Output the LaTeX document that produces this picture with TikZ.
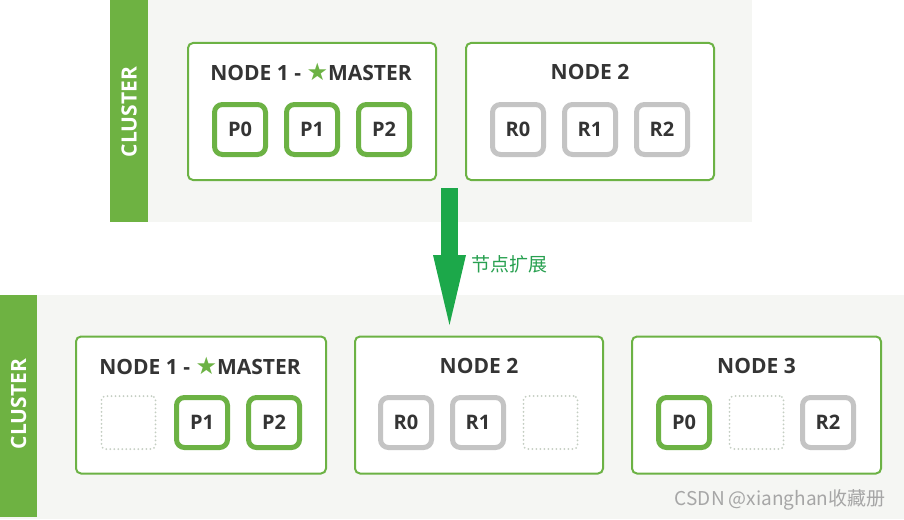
\documentclass[tikz,border=0pt]{standalone}
\usepackage{fontspec}
\setmainfont{Open Sans}
\newfontfamily\cjk{Noto Sans CJK SC}
\newfontfamily\symf{DejaVu Sans}
\usetikzlibrary{arrows.meta}
\definecolor{bgc}{RGB}{245,246,243}
\definecolor{barc}{RGB}{110,178,66}
\definecolor{grn}{RGB}{108,178,68}
\definecolor{gry}{RGB}{196,196,196}
\definecolor{dotc}{RGB}{196,206,194}
\definecolor{txt}{RGB}{52,52,52}
\definecolor{arrc}{RGB}{28,168,74}
\definecolor{lblc}{RGB}{40,160,80}
\newcommand{\mstar}{{\symf\fontsize{24}{21}\selectfont\color{grn}★}}
\begin{document}
\begin{tikzpicture}[x=1pt,y=-1pt,
  panel/.style={fill=bgc,draw=none},
  bar/.style={fill=barc,draw=none},
  clabel/.style={text=white,font=\bfseries\fontsize{21}{21}\selectfont,rotate=90},
  nodebox/.style={draw=grn,line width=2pt,rounded corners=5pt,fill=white,minimum width=248pt,minimum height=137pt,inner sep=0pt},
  title/.style={text=txt,font=\bfseries\fontsize{21}{21}\selectfont,inner sep=0pt},
  prim/.style={draw=grn,line width=5pt,rounded corners=8pt,fill=white,minimum width=51pt,minimum height=50pt,inner sep=0pt,text=txt,font=\bfseries\fontsize{20}{20}\selectfont},
  repl/.style={prim,draw=gry},
  emptybox/.style={draw=dotc,line width=2pt,line cap=round,dash pattern=on 0pt off 4pt,rounded corners=4pt,minimum width=54pt,minimum height=53pt,inner sep=0pt},
  bigarrow/.style={draw=arrc,line width=17pt,-{Triangle[width=33pt,length=70pt,line width=0pt]}},
  elabel/.style={text=lblc,font=\cjk\fontsize{19}{19}\selectfont},
  wmark/.style={text=gray!70,font=\cjk\fontsize{19}{19}\selectfont}
]
\useasboundingbox (0,0) rectangle (904,519);
% top panel
\fill[panel] (110,0) rectangle (752,222);
\fill[bar] (110,0) rectangle (148,222);
\node[clabel] (c1) at (129,112) {CLUSTER};
\node[nodebox] (t1) at (312,111.5) {};
\node[nodebox] (t2) at (590,111.5) {};
\node[title] (t1t) at (311,72) {NODE 1 - \mstar MASTER};
\node[title] (t2t) at (590,72) {NODE 2};
\node[prim] (tp0) at (240,129.5) {P0};
\node[prim] (tp1) at (312,129.5) {P1};
\node[prim] (tp2) at (384,129.5) {P2};
\node[repl] (tr0) at (518,129.5) {R0};
\node[repl] (tr1) at (590,129.5) {R1};
\node[repl] (tr2) at (662,129.5) {R2};
% bottom panel
\fill[panel] (0,295) rectangle (904,519);
\fill[bar] (0,295) rectangle (37,517);
\node[clabel] (c2) at (18.5,404) {CLUSTER};
\node[nodebox,minimum width=250pt] (b1) at (201,405) {};
\node[nodebox] (b2) at (479,405) {};
\node[nodebox,minimum width=249pt] (b3) at (756.5,405) {};
\node[title] (b1t) at (200,366) {NODE 1 - \mstar MASTER};
\node[title] (b2t) at (479,366) {NODE 2};
\node[title] (b3t) at (756.5,366) {NODE 3};
\node[emptybox] (be1) at (128.5,422.5) {};
\node[prim] (bp1) at (202,422.5) {P1};
\node[prim] (bp2) at (274,422.5) {P2};
\node[repl] (br0) at (406,422.5) {R0};
\node[repl] (br1) at (478,422.5) {R1};
\node[emptybox] (be2) at (550.5,422.5) {};
\node[prim] (bp0) at (684,422.5) {P0};
\node[emptybox] (be3) at (756.5,422.5) {};
\node[repl] (br2) at (828,422.5) {R2};
% arrow
\coordinate (as) at (449.5,188);
\coordinate (ae) at (449.5,325);
\draw[bigarrow] (as) -- (ae);
\node[elabel] (lbl) at (509,264) {节点扩展};
\node[wmark,anchor=east] (wm) at (889,500) {CSDN @xianghan收藏册};
\end{tikzpicture}
\end{document}
